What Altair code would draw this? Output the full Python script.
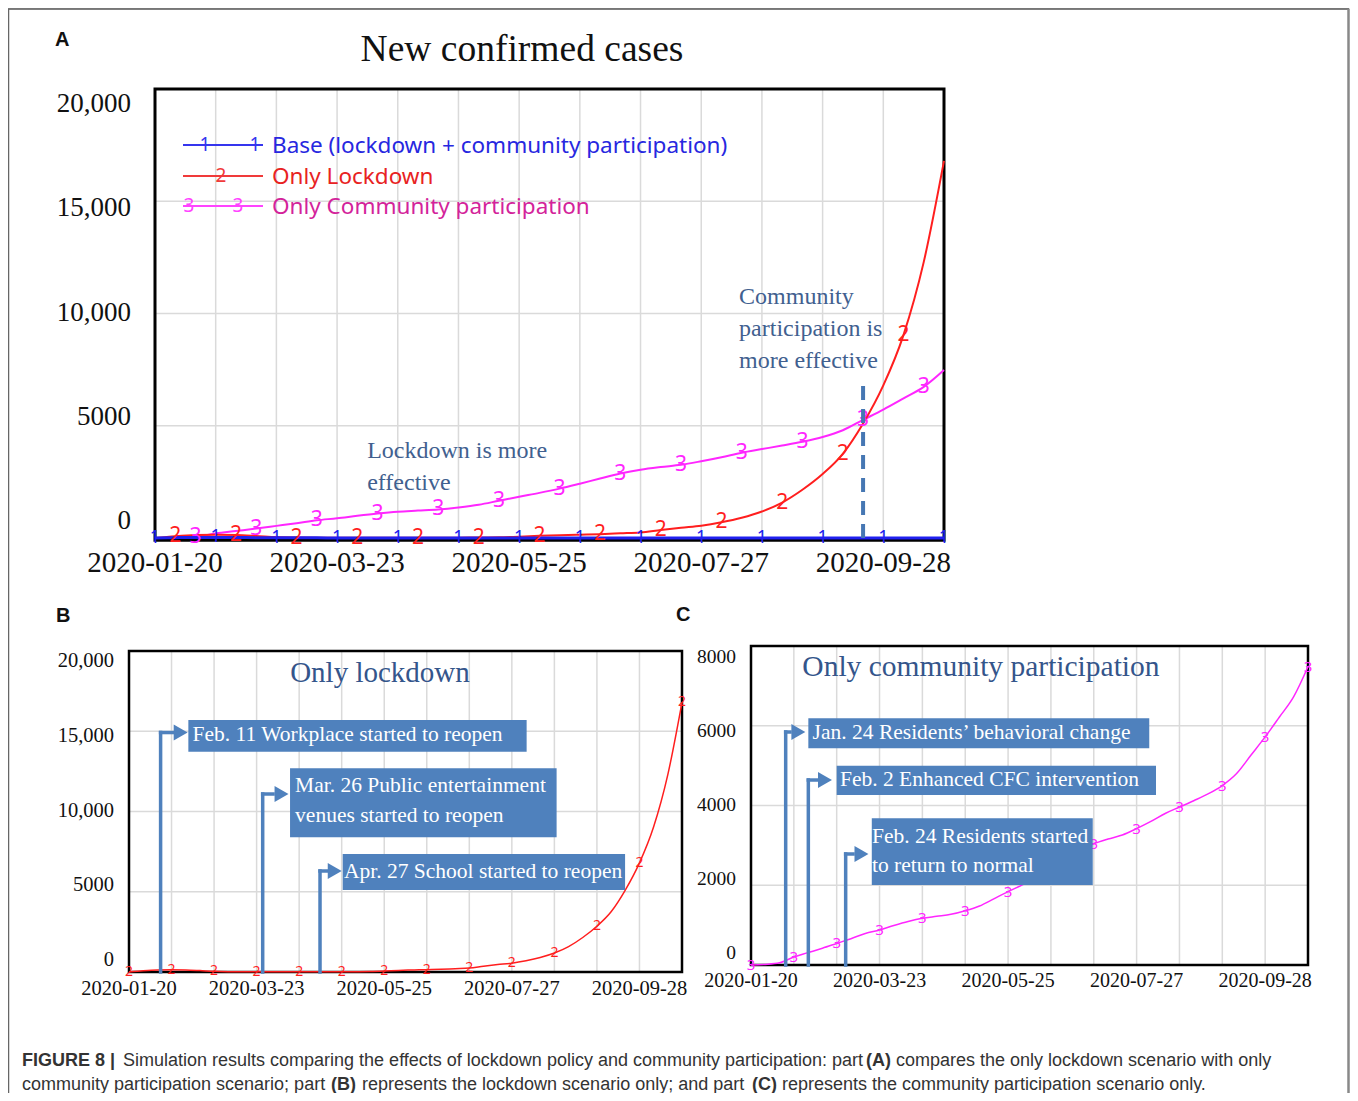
import altair as alt
import pandas as pd

# ---------------- data (days since 2020-01-20) ----------------
DAYS = [0, 7, 14, 21, 28, 35, 42, 49, 56, 63, 70, 77, 84, 91, 98, 105, 112, 119,
        126, 133, 140, 147, 154, 161, 168, 175, 182, 189, 196, 203, 210, 217, 224,
        231, 238, 245, 252, 259, 266, 273]
BASE = [0, 15, 25, 25, 20, 15, 10, 8, 6, 5,
        5, 4, 4, 4, 3, 3, 3, 3, 3, 3,
        3, 3, 3, 3, 3, 3, 3, 3, 3, 3,
        3, 3, 3, 3, 3, 3, 3, 3, 3, 3]
ONLY_LOCKDOWN = [0, 80, 130, 140, 130, 90, 40, 20, 15, 10,
                 10, 10, 10, 10, 10, 15, 20, 30, 60, 100,
                 125, 145, 170, 210, 250, 360, 460, 550, 700, 900,
                 1180, 1580, 2150, 2850, 3750, 5100, 6800, 9050, 12300, 16800]
ONLY_COMMUNITY = [0, 15, 55, 200, 310, 420, 540, 660, 790, 880,
                  990, 1090, 1170, 1220, 1270, 1360, 1480, 1660, 1840, 2010,
                  2200, 2420, 2650, 2870, 3040, 3160, 3260, 3420, 3600, 3800,
                  3960, 4120, 4290, 4500, 4800, 5260, 5720, 6220, 6730, 7480]

END_DAY = 273
DATE_TICK_DAYS = [0, 63, 126, 189, 252]
DATE_TICK_LABELS = ["2020-01-20", "2020-03-23", "2020-05-25", "2020-07-27", "2020-09-28"]
GRID_DAYS = [21, 42, 63, 84, 105, 126, 147, 168, 189, 210, 231, 252]

CASE_TICKS = [0, 5000, 10000, 15000, 20000]
CASE_LABELS = ["0", "5000", "10,000", "15,000", "20,000"]
C_TICKS = [0, 2000, 4000, 6000, 8000]
C_LABELS = ["0", "2000", "4000", "6000", "8000"]

SERIES_NAMES = ["Base (lockdown + community participation)", "Only Lockdown",
                "Only Community participation"]
CROSSOVER_DAY = 245
CROSSOVER_TOP = 6900

# ---------------- styling ----------------
SERIF = "Liberation Serif"
SANS = "Noto Sans"
CAPF = "Liberation Sans"
W, H = 1342, 1085
OFF = 8
BLUE, RED, MAG = "#2020f0", "#ff1e1e", "#ff26ff"
BOXC = "#4f81bd"
NOTE = "#41608f"
GRIDC = "#dadada"

ONE = pd.DataFrame({"k": [0]})


def make_scales(cfg):
    xs = alt.Scale(domain=[0, END_DAY], range=cfg["xr"], nice=False, zero=False)
    ys = alt.Scale(domain=[0, cfg["ymax"]], range=cfg["yr"], nice=False, zero=False)

    def ex(f):
        return alt.X(f, type="quantitative", scale=xs, axis=None)

    def ey(f):
        return alt.Y(f, type="quantitative", scale=ys, axis=None)
    return ex, ey


def frame_layer(cfg, ex, ey):
    df = pd.DataFrame({"x0": [0], "x1": [END_DAY], "y0": [cfg["fbot"]], "y1": [cfg["ymax"]]})
    return alt.Chart(df).mark_rect(fillOpacity=0, stroke="black", strokeWidth=cfg["fw"]).encode(
        x=ex("x0"), x2="x1", y=ey("y0"), y2="y1")


def tick_label_layers(cfg, ex, ey, ticks, labels):
    xl = alt.Chart(pd.DataFrame({"day": DATE_TICK_DAYS, "label": DATE_TICK_LABELS})).transform_calculate(
        lo="0").mark_text(font=SERIF, fontSize=cfg["xfs"], color="#111", align="center",
                          baseline="middle", dy=cfg["xdy"]).encode(
        x=ex("day"), y=ey("lo"), text="label:N")
    yl = alt.Chart(pd.DataFrame({"v": ticks, "label": labels})).transform_calculate(
        lo="0", pos=cfg["ylabpos"]).mark_text(font=SERIF, fontSize=cfg["yfs"], color="#111",
                                              align="right", baseline="middle",
                                              dx=-cfg["ypad"]).encode(
        x=ex("lo"), y=ey("pos"), text="label:N")
    return [xl, yl]


def grid_layers(cfg, ex, ey, ticks):
    v = alt.Chart(pd.DataFrame({"day": GRID_DAYS})).transform_calculate(
        lo="0", hi=str(cfg["ymax"])).mark_rule(color=GRIDC, strokeWidth=1.5).encode(
        x=ex("day"), y=ey("lo"), y2="hi")
    h = alt.Chart(pd.DataFrame({"v": ticks[1:-1]})).transform_calculate(
        lo="0", hi=str(END_DAY)).mark_rule(color=GRIDC, strokeWidth=1.5).encode(
        y=ey("v"), x=ex("lo"), x2="hi")
    return [v, h]


def line_layer(values, color, width, ex, ey):
    return alt.Chart(pd.DataFrame({"day": DAYS, "value": values})).mark_line(
        color=color, strokeWidth=width, interpolate="monotone").encode(x=ex("day"), y=ey("value"))


def marker_layer(values, glyph, start, color, size, ex, ey):
    return alt.Chart(pd.DataFrame({"day": DAYS, "value": values})).transform_filter(
        f"(datum.day - {start}) % 21 == 0").mark_text(
        text=glyph, font=SANS, fontSize=size, color=color, align="center",
        baseline="middle").encode(x=ex("day"), y=ey("value"))


def dtext(txt, d, v, ex, ey, **kw):
    return alt.Chart(pd.DataFrame({"d": [d], "v": [v]})).mark_text(text=txt, **kw).encode(
        x=ex("d"), y=ey("v"))


def event(ex, ey, day, level, head0, head1, box, lines, tday, tvals, fs=21.5):
    out = []
    out.append(alt.Chart(pd.DataFrame({"d": [day], "lo": [0], "hi": [level]})).mark_rule(
        color=BOXC, strokeWidth=3.5, strokeCap="square").encode(x=ex("d"), y=ey("lo"), y2="hi"))
    out.append(alt.Chart(pd.DataFrame({"d": [day], "d2": [head0], "v": [level]})).mark_rule(
        color=BOXC, strokeWidth=3.5, strokeCap="square").encode(x=ex("d"), x2="d2", y=ey("v")))
    out.append(alt.Chart(pd.DataFrame({"d": [(head0 + head1) / 2], "v": [level]})).mark_point(
        shape="triangle-right", filled=True, size=260, color=BOXC, opacity=1).encode(
        x=ex("d"), y=ey("v")))
    out.append(alt.Chart(pd.DataFrame({"d0": [box[0]], "d1": [box[1]], "v0": [box[2]],
                                       "v1": [box[3]]})).mark_rect(color=BOXC).encode(
        x=ex("d0"), x2="d1", y=ey("v0"), y2="v1"))
    for ln, tv in zip(lines, tvals):
        out.append(dtext(ln, tday, tv, ex, ey, font=SERIF, fontSize=fs, color="white",
                         align="left", baseline="middle"))
    return out


# ---------------- panel A ----------------
cfgA = dict(xr=[147, 936], yr=[530, 81], ymax=20000, xfs=29, xdy=25, yfs=27, ypad=24,
            fw=3, fbot=-100, ylabpos="datum.v - (-17 + 0.0016 * datum.v) / 0.02245")
exA, eyA = make_scales(cfgA)
layersA = grid_layers(cfgA, exA, eyA, CASE_TICKS)
layersA.append(frame_layer(cfgA, exA, eyA))
layersA += tick_label_layers(cfgA, exA, eyA, CASE_TICKS, CASE_LABELS)
layersA += [
    line_layer(ONLY_COMMUNITY, MAG, 2, exA, eyA),
    line_layer(ONLY_LOCKDOWN, RED, 2, exA, eyA),
    line_layer(BASE, BLUE, 3, exA, eyA),
    marker_layer(BASE, "1", 0, BLUE, 18, exA, eyA),
    marker_layer(ONLY_LOCKDOWN, "2", 7, RED, 21, exA, eyA),
    marker_layer(ONLY_COMMUNITY, "3", 14, MAG, 21, exA, eyA),
    alt.Chart(pd.DataFrame({"d": [CROSSOVER_DAY], "lo": [0], "hi": [CROSSOVER_TOP]})).mark_rule(
        color="#4677b3", strokeWidth=4, strokeDash=[14, 9]).encode(
        x=exA("d"), y=eyA("lo"), y2="hi"),
]
for txt, v in [("Lockdown is more", 3875), ("effective", 2450)]:
    layersA.append(dtext(txt, 73.4, v, exA, eyA, font=SERIF, fontSize=24, color=NOTE,
                         align="left", baseline="middle"))
for txt, v in [("Community", 10735), ("participation is", 9310), ("more effective", 7884)]:
    layersA.append(dtext(txt, 202.1, v, exA, eyA, font=SERIF, fontSize=24, color=NOTE,
                         align="left", baseline="middle"))
panelA = alt.layer(*layersA)

# ---------------- panel B ----------------
cfgB = dict(xr=[121, 674], yr=[964, 643], ymax=20000, xfs=20.5, xdy=17, yfs=20.5, ypad=15,
            fw=2.5, fbot=0, ylabpos="datum.v - (-12 + 0.0011 * datum.v) / 0.01605")
exB, eyB = make_scales(cfgB)
layersB = grid_layers(cfgB, exB, eyB, CASE_TICKS)
layersB.append(frame_layer(cfgB, exB, eyB))
layersB += tick_label_layers(cfgB, exB, eyB, CASE_TICKS, CASE_LABELS)
layersB += [
    line_layer(ONLY_LOCKDOWN, RED, 1.5, exB, eyB),
    marker_layer(ONLY_LOCKDOWN, "2", 0, RED, 14, exB, eyB),
    dtext("Only lockdown", 123.9, 18629, exB, eyB, font=SERIF, fontSize=29, color="#34558b",
          align="center", baseline="middle"),
]
layersB += event(exB, eyB, 15.6, 14920, 21.7, 29.3, (29.3, 196.3, 13725, 15700),
                 ["Feb. 11 Workplace started to reopen"], 31.4, [14766])
layersB += event(exB, eyB, 66.0, 11090, 71.1, 79.5, (79.5, 211.1, 8392, 12690),
                 ["Mar. 26 Public entertainment", "venues started to reopen"], 82.0, [11589, 9720])
layersB += event(exB, eyB, 94.3, 6293, 97.6, 105.5, (105.5, 244.9, 5109, 7352),
                 ["Apr. 27 School started to reopen"], 106.1, [6249])
panelB = alt.layer(*layersB)

# ---------------- panel C ----------------
cfgC = dict(xr=[743, 1300], yr=[957, 638], ymax=8000, xfs=20, xdy=16, yfs=19.5, ypad=15,
            fw=2.5, fbot=0, ylabpos="datum.v - (-12 + 0.002875 * datum.v) / 0.039875")
exC, eyC = make_scales(cfgC)
layersC = grid_layers(cfgC, exC, eyC, C_TICKS)
layersC.append(frame_layer(cfgC, exC, eyC))
layersC += tick_label_layers(cfgC, exC, eyC, C_TICKS, C_LABELS)
layersC += [
    line_layer(ONLY_COMMUNITY, MAG, 1.5, exC, eyC),
    marker_layer(ONLY_COMMUNITY, "3", 0, MAG, 15, exC, eyC),
    dtext("Only community participation", 112.7, 7473, exC, eyC, font=SERIF, fontSize=29.5,
          color="#34558b", align="center", baseline="middle"),
]
layersC += event(exC, eyC, 17.0, 5843, 19.1, 27.3, (28.1, 195.2, 5435, 6187),
                 ["Jan. 24 Residents\u2019 behavioral change"], 30.2, [5811])
layersC += event(exC, eyC, 28.1, 4639, 32.2, 40.3, (42.0, 198.5, 4263, 4998),
                 ["Feb. 2 Enhanced CFC intervention"], 43.6, [4639])
layersC += event(exC, eyC, 46.4, 2784, 50.0, 58.3, (59.2, 167.5, 2006, 3679),
                 ["Feb. 24 Residents started", "to return to normal"], 59.3, [3217, 2490])
panelC = alt.layer(*layersC)


# ---------------- page decorations (pixel layout) ----------------
def ptext(txt, x, y, **kw):
    return alt.Chart(ONE).mark_text(text=txt, **kw).encode(
        x=alt.value(x - OFF), y=alt.value(y - OFF))


def hrule(x0, x1, y, **kw):
    return alt.Chart(ONE).mark_rule(**kw).encode(
        x=alt.value(x0 - OFF), x2=alt.value(x1 - OFF), y=alt.value(y - OFF))


def vrule(x, y0, y1, **kw):
    return alt.Chart(ONE).mark_rule(**kw).encode(
        x=alt.value(x - OFF), y=alt.value(y0 - OFF), y2=alt.value(y1 - OFF))


deco = [
    hrule(8, 1349, 9, color="#555", strokeWidth=1.5),
    vrule(8.5, 9, 1100, color="#666", strokeWidth=1.5),
    vrule(1348.5, 9, 1100, color="#888", strokeWidth=2.5),
    ptext("New confirmed cases", 522, 50, font=SERIF, fontSize=37.5, color="#111",
          align="center", baseline="middle"),
    ptext("A", 55, 40, font=CAPF, fontSize=20, fontWeight="bold", color="#111",
          align="left", baseline="middle"),
    ptext("B", 56, 616, font=CAPF, fontSize=20, fontWeight="bold", color="#111",
          align="left", baseline="middle"),
    ptext("C", 676, 615, font=CAPF, fontSize=20, fontWeight="bold", color="#111",
          align="left", baseline="middle"),
]

legend_items = [
    (145, "#3535ee", "#2727e0", SERIES_NAMES[0], "1", [205, 255]),
    (176, "#f03a3a", "#e82222", SERIES_NAMES[1], "2", [221]),
    (206, "#ff44ff", "#d3239a", SERIES_NAMES[2], "3", [189, 238]),
]
for yy, lc, tc, name, g, mxs in legend_items:
    deco.append(hrule(183, 263, yy, color=lc, strokeWidth=2))
    for mx in mxs:
        deco.append(ptext(g, mx, yy, font=SANS, fontSize=19, color=lc, align="center",
                          baseline="middle"))
    deco.append(ptext(name, 272, yy + 1, font=SANS, fontSize=22.5, color=tc, align="left",
                      baseline="middle"))

CAP_COLOR = "#333333"
caption = [
    ("FIGURE 8 |", 22, 1061, "bold"),
    ("Simulation results comparing the effects of lockdown policy and community participation: part",
     123, 1061, "normal"),
    ("(A)", 866, 1061, "bold"),
    ("compares the only lockdown scenario with only", 896, 1061, "normal"),
    ("community participation scenario; part", 22, 1085, "normal"),
    ("(B)", 331, 1085, "bold"),
    ("represents the lockdown scenario only; and part", 362, 1085, "normal"),
    ("(C)", 752, 1085, "bold"),
    ("represents the community participation scenario only.", 782, 1085, "normal"),
]
for txt, x, y, wgt in caption:
    deco.append(ptext(txt, x, y, font=CAPF, fontSize=18, fontWeight=wgt, color=CAP_COLOR,
                      align="left", baseline="middle"))

chart = alt.layer(panelA, panelB, panelC, *deco).resolve_scale(
    x="independent", y="independent"
).properties(
    width=W, height=H, padding=0, autosize=alt.AutoSizeParams(type="none")
).configure_view(stroke=None).configure(background="white")

chart.save("out.html", embed_options={"renderer": "svg", "actions": False})
